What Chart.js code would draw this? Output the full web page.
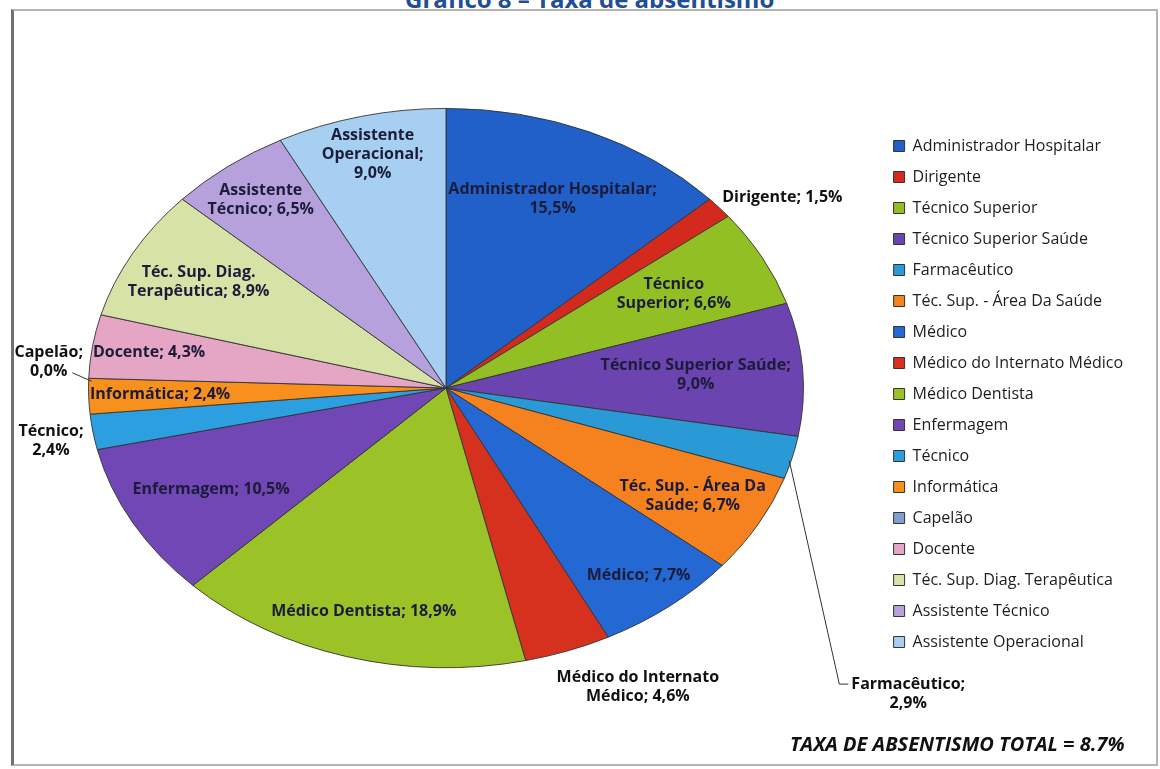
<!DOCTYPE html>
<html lang="pt">
<head>
<meta charset="utf-8">
<title>Taxa de absentismo</title>
<script src="https://cdn.jsdelivr.net/npm/chart.js@4.4.1/dist/chart.umd.min.js"></script>
<style>
  html, body { margin: 0; padding: 0; background: #fff; }
  body { width: 1160px; height: 769px; position: relative; overflow: hidden; font-family: "Open Sans", sans-serif; }
  #frame { position: absolute; left: 11px; top: 9px; width: 1147px; height: 757px; box-sizing: border-box;
           border: 2px solid #b4b4b4; border-left: 3px solid #707070; }
  #title { position: absolute; left: 405px; top: -18px; line-height: 28px; white-space: nowrap;
           font: bold 24px "Open Sans", sans-serif; color: #1f4e96; }
  #total { position: absolute; left: 790px; top: 730px; white-space: nowrap;
           font: italic bold 20px "Open Sans", sans-serif; color: #111; }
  canvas { position: absolute; left: 0; top: 0; }
</style>
</head>
<body>
<div id="title">Gráfico 8 – Taxa de absentismo</div>
<div id="frame"></div>
<canvas id="absentismo" width="1160" height="769"></canvas>
<div id="total">TAXA DE ABSENTISMO TOTAL = 8.7%</div>
<script>
// categorias e taxas (%)
const categories = [
    'Administrador Hospitalar', 'Dirigente', 'Técnico Superior', 'Técnico Superior Saúde',
    'Farmacêutico', 'Téc. Sup. - Área Da Saúde', 'Médico', 'Médico do Internato Médico',
    'Médico Dentista', 'Enfermagem', 'Técnico', 'Informática', 'Capelão', 'Docente',
    'Téc. Sup. Diag. Terapêutica', 'Assistente Técnico', 'Assistente Operacional'
];
const rates = [15.5, 1.5, 6.6, 9.0, 2.9, 6.7, 7.7, 4.6, 18.9, 10.5, 2.4, 2.4, 0.0, 4.3, 8.9, 6.5, 9.0];

const sliceColors = [
    '#2160c8', '#d42a1e', '#92c024', '#6b44b0', '#2a9ad6', '#f5821f', '#2468d4', '#d6311f',
    '#9bc226', '#7047b4', '#2b9fdf', '#f7901c', '#7ea0d0', '#e4a6c4', '#d6e2a6', '#b7a1dc', '#a6cff1'
];

// onde fica cada etiqueta: dentro (fração do raio) ou fora (desvio em px a partir da borda)
const labelSpots = [
    { r: 0.74, wrap: 250 },
    { out: true, dx: 3, dy: -10, align: 'left', wrap: 240 },
    { r: 0.72, wrap: 128 },
    { r: 0.70, wrap: 230 },
    { out: true, dx: 116, dy: 236, wrap: 140, leader: 'elbow' },
    { r: 0.79, wrap: 190 },
    { r: 0.86, wrap: 230 },
    { out: true, dx: 70, dy: 36, wrap: 185 },
    { r: 0.83, wrap: 290 },
    { r: 0.75, wrap: 250 },
    { out: true, dx: -42, dy: 9, wrap: 80 },
    { r: 0.80, wrap: 230 },
    { out: true, dx: -40, dy: -16, wrap: 80, leader: 'short' },
    { r: 0.84, wrap: 230 },
    { r: 0.79, wrap: 170 },
    { r: 0.85, wrap: 140 },
    { r: 0.86, wrap: 115 }
];

const PIE_CX = 446;
const PIE_CY = 388;
const PIE_TILT = 280 / 358; // achatamento vertical da "pizza"
const LINE_H = 19;

function fmt(v) {
    return v.toFixed(1).replace('.', ',') + '%';
}

function wrapText(ctx, text, maxWidth) {
    const words = text.split(' ');
    const lines = [];
    let line = '';
    words.forEach(w => {
        const test = line ? line + ' ' + w : w;
        if (line && ctx.measureText(test).width > maxWidth) {
            lines.push(line);
            line = w;
        } else {
            line = test;
        }
    });
    if (line) lines.push(line);
    return lines;
}

const ellipsePlugin = {
    id: 'ellipse',
    beforeDatasetsDraw(chart) {
        const arc = chart.getDatasetMeta(0).data[0];
        const ctx = chart.ctx;
        ctx.save();
        ctx.translate(PIE_CX, PIE_CY);
        ctx.scale(1, PIE_TILT);
        ctx.translate(-arc.x, -arc.y);
    },
    afterDatasetsDraw(chart) {
        chart.ctx.restore();
    }
};

const labelPlugin = {
    id: 'sliceLabels',
    afterDraw(chart) {
        const ctx = chart.ctx;
        const meta = chart.getDatasetMeta(0);
        ctx.save();
        ctx.font = 'bold 16px "Open Sans"';
        ctx.textBaseline = 'middle';
        meta.data.forEach((arc, i) => {
            const spot = labelSpots[i];
            const mid = (arc.startAngle + arc.endAngle) / 2;
            const R = arc.outerRadius;
            const at = f => ({
                x: PIE_CX + Math.cos(mid) * R * f,
                y: PIE_CY + Math.sin(mid) * R * f * PIE_TILT
            });
            const lines = wrapText(ctx, categories[i] + '; ' + fmt(rates[i]), spot.wrap);
            let cx, cy;
            if (spot.out) {
                const edge = at(1);
                cx = edge.x + spot.dx;
                cy = edge.y + spot.dy;
                ctx.fillStyle = '#111';
                ctx.strokeStyle = '#333';
                ctx.lineWidth = 1;
                if (spot.leader === 'elbow') {
                    const w = ctx.measureText(lines[0]).width;
                    const y0 = cy - (lines.length - 1) * LINE_H / 2;
                    const left = cx - w / 2;
                    ctx.beginPath();
                    ctx.moveTo(edge.x - 3, edge.y + 3);
                    ctx.lineTo(left - 12, y0);
                    ctx.lineTo(left - 3, y0);
                    ctx.stroke();
                } else if (spot.leader === 'short') {
                    const last = lines[lines.length - 1];
                    const w = ctx.measureText(last).width;
                    const yl = cy + (lines.length - 1) * LINE_H / 2;
                    ctx.beginPath();
                    ctx.moveTo(cx + w / 2 + 5, yl + 1);
                    ctx.lineTo(edge.x + 3, edge.y + 3);
                    ctx.stroke();
                }
            } else {
                const p = at(spot.r);
                cx = p.x;
                cy = p.y;
                ctx.fillStyle = '#1c1c3a';
            }
            ctx.textAlign = spot.align || 'center';
            lines.forEach((ln, k) => {
                ctx.fillText(ln, cx, cy + (k - (lines.length - 1) / 2) * LINE_H);
            });
        });
        ctx.restore();
    }
};

const ctx = document.getElementById('absentismo').getContext('2d');
new Chart(ctx, {
    type: 'pie',
    data: {
        labels: categories,
        datasets: [{
            data: rates,
            backgroundColor: sliceColors,
            borderColor: '#333',
            borderWidth: 1
        }]
    },
    options: {
        responsive: false,
        animation: false,
        layout: { padding: { left: 88, top: 36, bottom: 17, right: 27 } },
        plugins: {
            legend: {
                position: 'right',
                labels: {
                    boxWidth: 11,
                    boxHeight: 11,
                    padding: 15,
                    color: '#1e1e1e',
                    font: { family: 'Open Sans', size: 16 }
                }
            },
            tooltip: { enabled: false }
        }
    },
    plugins: [ellipsePlugin, labelPlugin]
});
</script>
</body>
</html>
